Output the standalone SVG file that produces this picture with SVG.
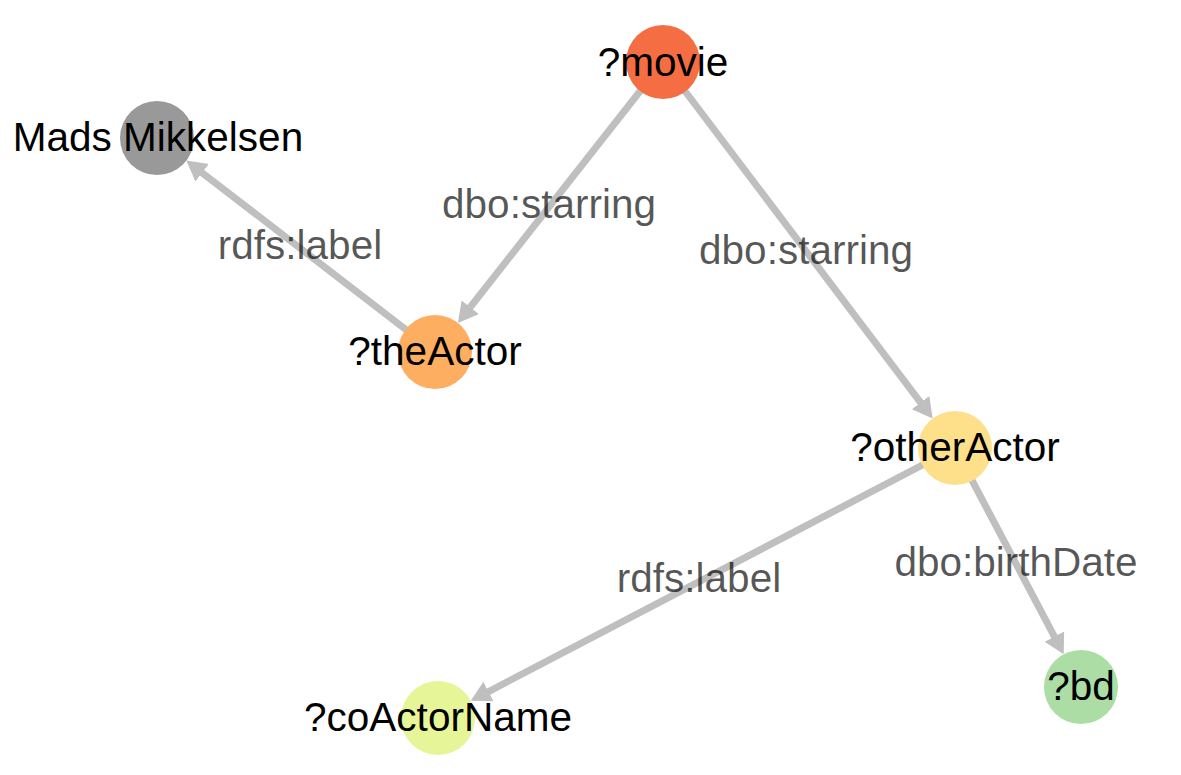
<svg xmlns="http://www.w3.org/2000/svg" width="1181" height="775" viewBox="0 0 1181 775">
<style>
.edge{stroke:#bfbfbf;stroke-width:7;fill:none;marker-end:url(#arrow)}
.elabel{font-family:"Liberation Sans",Arial,sans-serif;font-size:40.5px;fill:#000;fill-opacity:0.66;text-anchor:middle}
.nlabel{font-family:"Liberation Sans",Arial,sans-serif;font-size:40.5px;fill:#000;text-anchor:middle}
</style>
<defs>
<marker id="arrow" markerUnits="userSpaceOnUse" markerWidth="24" markerHeight="24" refX="8" refY="11" orient="auto" viewBox="0 0 24 24">
<path d="M0,0 L20,11 L0,22 Z" fill="#bfbfbf"/>
</marker>
</defs>
<rect width="1181" height="775" fill="#fff"/>
<g id="connectors">
<line class="edge" x1="663" y1="62" x2="465.3" y2="313.5"/>
<line class="edge" x1="663" y1="62" x2="925.4" y2="408.9"/>
<line class="edge" x1="435" y1="352" x2="195.8" y2="167.9"/>
<line class="edge" x1="955" y1="448" x2="481.4" y2="695.3"/>
<line class="edge" x1="955" y1="448" x2="1058.1" y2="643.7"/>
<text class="elabel" x="549" y="218">dbo:starring</text>
<text class="elabel" x="806" y="264">dbo:starring</text>
<text class="elabel" x="300" y="259">rdfs:label</text>
<text class="elabel" x="699" y="592">rdfs:label</text>
<text class="elabel" x="1016" y="576">dbo:birthDate</text>
</g>
<g id="node-movie">
<circle cx="663" cy="62" r="37" fill="#f46d43"/>
<text class="nlabel" x="663" y="76">?movie</text>
</g>
<g id="node-mads">
<circle cx="157" cy="138" r="37" fill="#999999"/>
<text class="nlabel" x="158" y="151">Mads Mikkelsen</text>
</g>
<g id="node-theActor">
<circle cx="435" cy="352" r="37" fill="#fdae61"/>
<text class="nlabel" x="435" y="365">?theActor</text>
</g>
<g id="node-otherActor">
<circle cx="955" cy="448" r="37" fill="#fee08b"/>
<text class="nlabel" x="955" y="461">?otherActor</text>
</g>
<g id="node-coActorName">
<circle cx="438" cy="718" r="37" fill="#e6f598"/>
<text class="nlabel" x="438" y="731">?coActorName</text>
</g>
<g id="node-bd">
<circle cx="1081" cy="687" r="37" fill="#abdda4"/>
<text class="nlabel" x="1081" y="700">?bd</text>
</g>
</svg>
